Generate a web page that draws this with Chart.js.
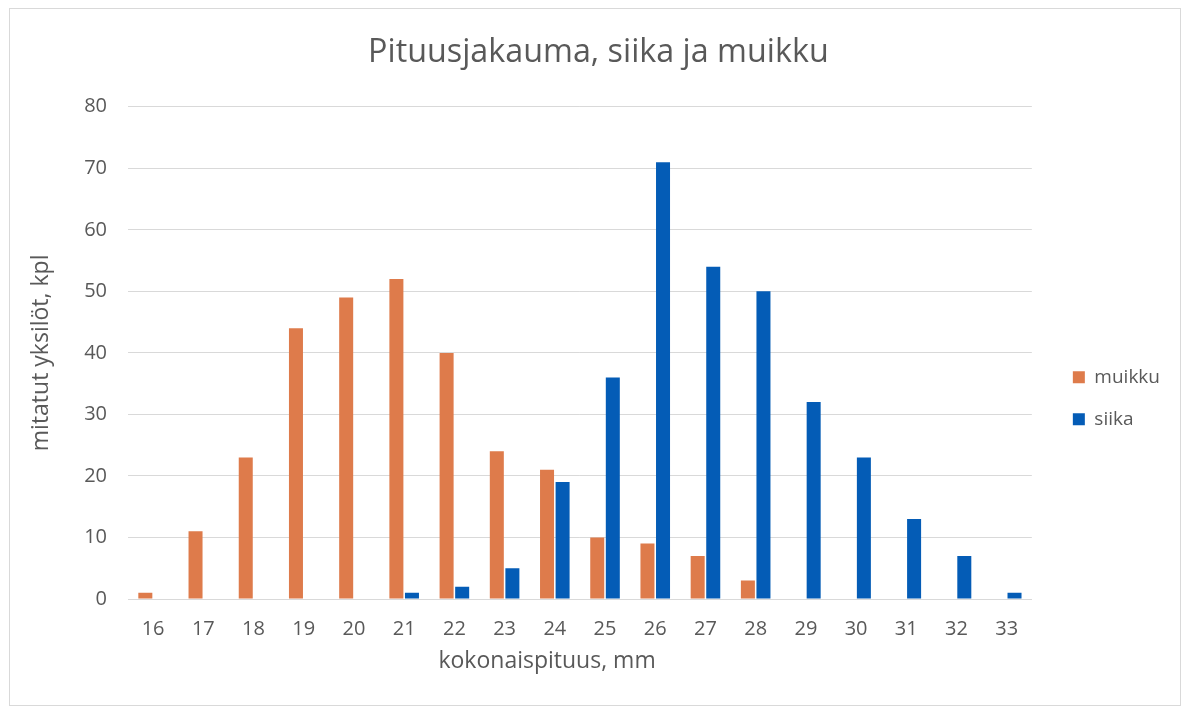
<!DOCTYPE html>
<html lang="fi">
<head>
  <meta charset="UTF-8">
  <title>Pituusjakauma, siika ja muikku</title>
  <script src="https://cdn.jsdelivr.net/npm/chart.js"></script>
  <style>
    body { margin: 0; background: #fff; }
    #wrap { position: absolute; left: 9px; top: 8px; width: 1170px; height: 696px; border: 1px solid #d9d9d9; }
  </style>
</head>
<body>
  <div id="wrap"><canvas id="chart"></canvas></div>

  <script>
    const lengths = ['16', '17', '18', '19', '20', '21', '22', '23', '24', '25', '26', '27', '28', '29', '30', '31', '32', '33'];
    const muikku = [1, 11, 23, 44, 49, 52, 40, 24, 21, 10, 9, 7, 3, 0, 0, 0, 0, 0];
    const siika = [0, 0, 0, 0, 0, 1, 2, 5, 19, 36, 71, 54, 50, 32, 23, 13, 7, 1];

    const textColor = '#595959';
    const gridColor = '#d9d9d9';
    const font = '"Open Sans", sans-serif';
    const nb = n => '\u00A0'.repeat(n);   // pads titles a little off-centre, like the original

    new Chart(document.getElementById('chart'), {
      type: 'bar',
      data: {
        labels: lengths,
        datasets: [
          { label: 'muikku', data: muikku, backgroundColor: '#de7b4b', borderWidth: 0, categoryPercentage: 0.62, barPercentage: 0.9 },
          { label: 'siika', data: siika, backgroundColor: '#045cb6', borderWidth: 0, categoryPercentage: 0.62, barPercentage: 0.9 }
        ]
      },
      options: {
        responsive: true,
        maintainAspectRatio: false,
        animation: false,
        layout: { padding: { left: 0, right: 10, top: 0, bottom: 0 } },
        scales: {
          x: {
            grid: { display: false, drawTicks: false },
            border: { display: true, color: gridColor, width: 1 },
            ticks: { color: textColor, font: { family: font, size: 20 }, padding: 18, maxRotation: 0 },
            title: { display: true, text: 'kokonaispituus, mm' + nb(11), color: textColor, font: { family: font, size: 23 }, padding: { top: 0, bottom: 30 } },
            afterFit: s => { s.height = 106; }
          },
          y: {
            min: 0,
            max: 80,
            ticks: { stepSize: 10, color: textColor, font: { family: font, size: 20 }, padding: 21 },
            grid: { color: gridColor, drawTicks: false },
            border: { display: false },
            title: { display: true, text: 'mitatut yksilöt, kpl', color: textColor, font: { family: font, size: 23 }, padding: { top: 18, bottom: 0 } },
            afterFit: s => { s.width = 118; }
          },
          // empty spacer between plot and legend
          yr: {
            position: 'right',
            grid: { display: false },
            border: { display: false },
            ticks: { display: false },
            afterFit: s => { s.width = 18; }
          }
        },
        plugins: {
          title: {
            display: true,
            text: nb(2) + 'Pituusjakauma, siika ja muikku',
            color: textColor,
            font: { family: font, size: 32.3, weight: 'normal' },
            padding: { top: 24, bottom: 35 }
          },
          legend: {
            position: 'right',
            align: 'center',
            title: { display: true, text: '', padding: 34 },
            labels: { boxWidth: 12, boxHeight: 12, padding: 23, color: textColor, font: { family: font, size: 19 } }
          },
          tooltip: { enabled: false }
        }
      }
    });
  </script>
</body>
</html>
